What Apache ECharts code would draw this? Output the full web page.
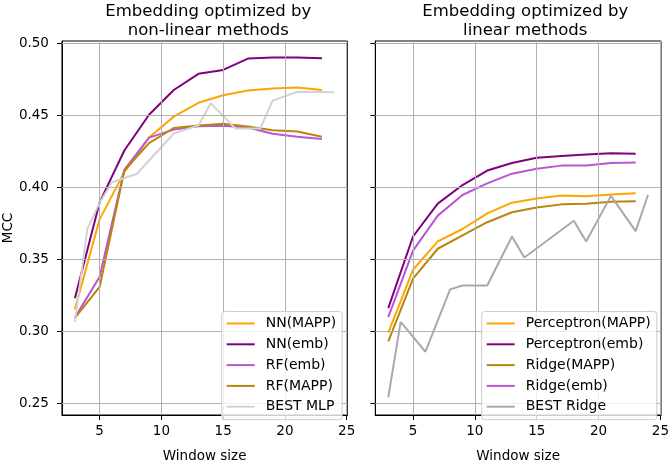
<!DOCTYPE html>
<html>
<head>
<meta charset="utf-8">
<script src="https://cdn.jsdelivr.net/npm/echarts@6/dist/echarts.min.js"></script>
<style>html,body{margin:0;padding:0;background:#fff}#c{width:672px;height:468px}</style>
</head>
<body>
<div id="c"></div>
<script>
// ---- data ----
const windows = [3, 5, 7, 9, 11, 13, 15, 17, 19, 21, 23];
const xTicks = [5, 10, 15, 20, 25];
const yTicks = [0.25, 0.30, 0.35, 0.40, 0.45, 0.50];
const yTickLabels = ['0.25', '0.30', '0.35', '0.40', '0.45', '0.50'];

const titleLeft = 'Embedding optimized by\nnon-linear methods';
const titleRight = 'Embedding optimized by\nlinear methods';

// left panel
const nnMapp = [0.3154, 0.3777, 0.4105, 0.4345, 0.4490, 0.4586, 0.4638, 0.4671, 0.4685, 0.4693, 0.4675];
const nnEmb  = [0.3229, 0.3895, 0.4255, 0.4503, 0.4675, 0.4787, 0.4814, 0.4893, 0.4901, 0.4901, 0.4895];
const rfEmb  = [0.3095, 0.3378, 0.4120, 0.4344, 0.4400, 0.4423, 0.4427, 0.4415, 0.4371, 0.4351, 0.4334];
const rfMapp = [0.3093, 0.3308, 0.4116, 0.4306, 0.4411, 0.4429, 0.4440, 0.4422, 0.4396, 0.4387, 0.4351];
const bestMlpX = [3, 4, 5, 6, 8, 11, 13, 14, 16, 18, 19, 21, 24];
const bestMlpY = [0.3065, 0.3710, 0.3893, 0.4035, 0.4092, 0.4373, 0.4429, 0.4583, 0.4407, 0.4407, 0.4601, 0.4662, 0.4660];

// right panel
const percMapp  = [0.2991, 0.3427, 0.3624, 0.3710, 0.3818, 0.3893, 0.3921, 0.3942, 0.3937, 0.3950, 0.3958];
const percEmb   = [0.3161, 0.3658, 0.3886, 0.4015, 0.4116, 0.4168, 0.4205, 0.4217, 0.4228, 0.4235, 0.4233];
const ridgeMapp = [0.2930, 0.3366, 0.3573, 0.3665, 0.3757, 0.3826, 0.3859, 0.3881, 0.3886, 0.3899, 0.3903];
const ridgeEmb  = [0.3098, 0.3560, 0.3803, 0.3946, 0.4027, 0.4094, 0.4128, 0.4150, 0.4150, 0.4168, 0.4172];
const bestRidgeX = [3, 4, 6, 8, 9, 11, 13, 14, 18, 19, 21, 23, 24];
const bestRidgeY = [0.2541, 0.3065, 0.2858, 0.3291, 0.3318, 0.3318, 0.3658, 0.3512, 0.3767, 0.3624, 0.3940, 0.3695, 0.3948];

const leftNames = ['NN(MAPP)', 'NN(emb)', 'RF(emb)', 'RF(MAPP)', 'BEST MLP'];
const rightNames = ['Perceptron(MAPP)', 'Perceptron(emb)', 'Ridge(MAPP)', 'Ridge(emb)', 'BEST Ridge'];

// ---- styling ----
const FONT = 'DejaVu Sans';
const C = {
  orange: '#FFA500', purple: '#800080', orchid: '#BA55D3',
  gold: '#B8860B', lgray: '#D3D3D3', dgray: '#A9A9A9'
};
const X_MIN = 1.95, X_MAX = 25.05, Y_MIN = 0.2419, Y_MAX = 0.5015;

function zip(xs, ys) { return xs.map((x, i) => [x, ys[i]]); }
function line(name, xs, ys, color, idx) {
  return {
    name, type: 'line', xAxisIndex: idx, yAxisIndex: idx,
    data: zip(xs, ys), showSymbol: false, symbol: 'none',
    lineStyle: { color, width: 2 }, itemStyle: { color },
    animation: false, z: 3
  };
}
function gridSeries(idx) {
  return {
    type: 'line', xAxisIndex: idx, yAxisIndex: idx, data: [], silent: true, z: 1,
    markLine: {
      silent: true, symbol: 'none', animation: false,
      label: { show: false },
      lineStyle: { color: '#b0b0b0', width: 1, type: 'solid' },
      emphasis: { disabled: true },
      data: xTicks.filter(v => v <= X_MAX).map(v => ({ xAxis: v }))
        .concat(yTicks.filter(v => v <= Y_MAX).map(v => ({ yAxis: v })))
    }
  };
}
function xAxis(idx) {
  return {
    type: 'value', gridIndex: idx, min: X_MIN, max: X_MAX,
    name: 'Window size', nameLocation: 'middle', nameGap: 34,
    nameTextStyle: { fontFamily: FONT, fontSize: 13.5, color: '#000' },
    axisLine: { show: true, lineStyle: { color: '#000', width: 1 } },
    axisTick: { show: true, length: 5, lineStyle: { color: '#000' }, customValues: xTicks },
    axisLabel: { customValues: xTicks, fontFamily: FONT, fontSize: 13.5, color: '#000', margin: 9,
      showMinLabel: true, showMaxLabel: true },
    splitLine: { show: false }
  };
}
function yAxis(idx, showLabels) {
  return {
    type: 'value', gridIndex: idx, min: Y_MIN, max: Y_MAX,
    name: showLabels ? 'MCC' : '', nameLocation: 'middle', nameGap: 46,
    nameTextStyle: { fontFamily: FONT, fontSize: 13.5, color: '#000' },
    axisLine: { show: true, lineStyle: { color: '#000', width: 1 } },
    axisTick: { show: true, length: 5, lineStyle: { color: '#000' }, customValues: yTicks },
    axisLabel: { show: showLabels, customValues: yTicks, fontFamily: FONT, fontSize: 13.5, color: '#000', margin: 13,
      formatter: v => yTickLabels[yTicks.findIndex(t => Math.abs(t - v) < 1e-6)] ?? '' },
    splitLine: { show: false }
  };
}
function legend(names, left) {
  return {
    data: names, orient: 'vertical', left, top: 311.5, z: 50,
    icon: 'rect', itemWidth: 28, itemHeight: 2, itemGap: 4.8,
    padding: [4, 6, 5, 5],
    backgroundColor: 'rgba(255,255,255,0.8)', borderColor: '#cccccc', borderWidth: 1, borderRadius: 3,
    textStyle: { fontFamily: FONT, fontSize: 14, color: '#000', lineHeight: 16, padding: [0, 0, 0, 6] },
    selectedMode: false
  };
}

const chart = echarts.init(document.getElementById('c'), null, { renderer: 'canvas' });
chart.setOption({
  animation: false,
  backgroundColor: '#fff',
  textStyle: { fontFamily: FONT },
  title: [
    { text: titleLeft, left: 203.3, top: -2.5, textAlign: 'center',
      textStyle: { fontFamily: FONT, fontSize: 16.5, fontWeight: 'normal', color: '#000', lineHeight: 19 } },
    { text: titleRight, left: 520.2, top: -2.5, textAlign: 'center',
      textStyle: { fontFamily: FONT, fontSize: 16.5, fontWeight: 'normal', color: '#000', lineHeight: 19 } }
  ],
  grid: [
    { left: 59.3, top: 41, width: 288, height: 386.7, show: true, borderColor: '#000', borderWidth: 1, backgroundColor: 'transparent' },
    { left: 375.3, top: 41, width: 289.7, height: 386.7, show: true, borderColor: '#000', borderWidth: 1, backgroundColor: 'transparent' }
  ],
  xAxis: [xAxis(0), xAxis(1)],
  yAxis: [yAxis(0, true), yAxis(1, false)],
  legend: [legend(leftNames, 221.7), legend(rightNames, 481.7)],
  series: [
    gridSeries(0), gridSeries(1),
    line(leftNames[0], windows, nnMapp, C.orange, 0),
    line(leftNames[1], windows, nnEmb, C.purple, 0),
    line(leftNames[2], windows, rfEmb, C.orchid, 0),
    line(leftNames[3], windows, rfMapp, C.gold, 0),
    line(leftNames[4], bestMlpX, bestMlpY, C.lgray, 0),
    line(rightNames[0], windows, percMapp, C.orange, 1),
    line(rightNames[1], windows, percEmb, C.purple, 1),
    line(rightNames[2], windows, ridgeMapp, C.gold, 1),
    line(rightNames[3], windows, ridgeEmb, C.orchid, 1),
    line(rightNames[4], bestRidgeX, bestRidgeY, C.dgray, 1)
  ]
});
</script>
</body>
</html>
